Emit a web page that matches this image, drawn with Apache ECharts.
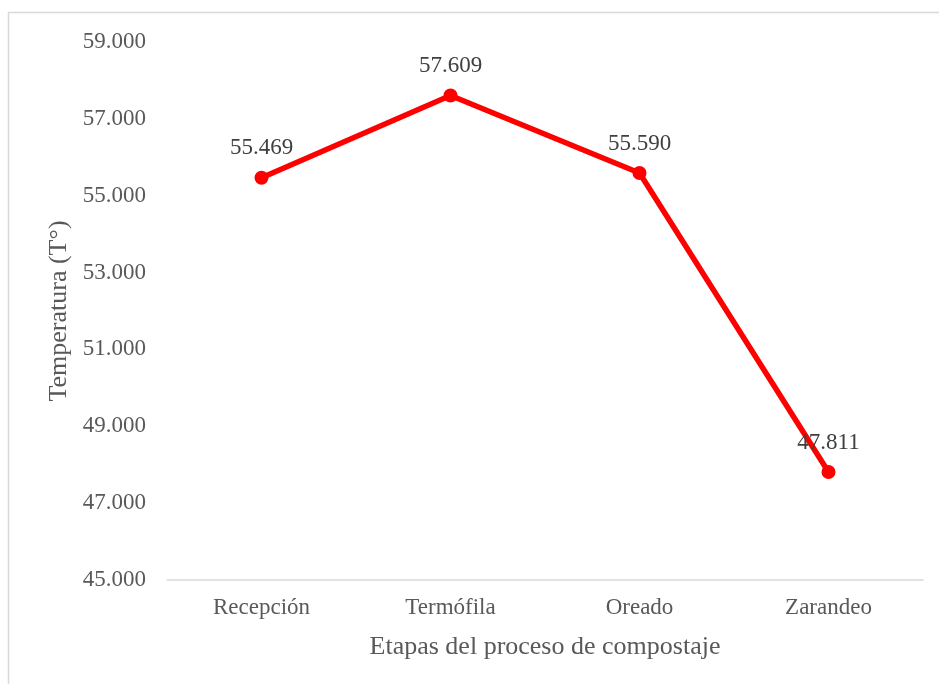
<!DOCTYPE html>
<html>
<head>
<meta charset="utf-8">
<script src="https://cdn.jsdelivr.net/npm/echarts@6/dist/echarts.min.js"></script>
<style>
  html, body { margin: 0; padding: 0; background: #fff; }
  #chart { width: 939px; height: 684px; }
</style>
</head>
<body>
<div id="chart"></div>
<script>
// Etapas del proceso de compostaje
var etapas = ["Recepción", "Termófila", "Oreado", "Zarandeo"];
var temperatura = [55.469, 57.609, 55.590, 47.811];
var yMin = 45, yMax = 59, yStep = 2;

var font = "'Liberation Serif', 'Times New Roman', serif";
var gris = "#595959";

var chart = echarts.init(document.getElementById("chart"));
chart.setOption({
  animation: false,
  textStyle: { fontFamily: font },
  // marco del grafico
  graphic: [{
    type: "rect",
    shape: { x: 8.5, y: 12.5, width: 1200, height: 1200 },
    style: { fill: "none", stroke: "#D9D9D9", lineWidth: 1.5 },
    silent: true
  }],
  grid: { left: 167, right: 16, top: 42, bottom: 104 },
  xAxis: {
    type: "category",
    data: etapas,
    name: "Etapas del proceso de compostaje",
    nameLocation: "middle",
    nameGap: 54,
    nameTextStyle: { color: gris, fontSize: 26, fontFamily: font },
    axisLine: { lineStyle: { color: "#D9D9D9", width: 1.5 } },
    axisTick: { show: false },
    axisLabel: { color: gris, fontSize: 23, fontFamily: font, margin: 16 }
  },
  yAxis: {
    type: "value",
    min: yMin,
    max: yMax,
    interval: yStep,
    name: "Temperatura (T°)",
    nameLocation: "middle",
    nameGap: 95,
    nameTextStyle: { color: gris, fontSize: 26, fontFamily: font },
    axisLine: { show: false },
    axisTick: { show: false },
    splitLine: { show: false },
    axisLabel: {
      color: gris, fontSize: 23, fontFamily: font, margin: 21,
      formatter: function (v) { return v.toFixed(3); }
    }
  },
  series: [{
    type: "line",
    data: temperatura,
    symbol: "circle",
    symbolSize: 14,
    itemStyle: { color: "#FF0000" },
    lineStyle: { color: "#FF0000", width: 5.5 },
    label: {
      show: true,
      position: "top",
      distance: 11,
      color: "#404040",
      fontSize: 23,
      fontFamily: font,
      formatter: function (p) { return p.value.toFixed(3); }
    }
  }]
});
</script>
</body>
</html>
